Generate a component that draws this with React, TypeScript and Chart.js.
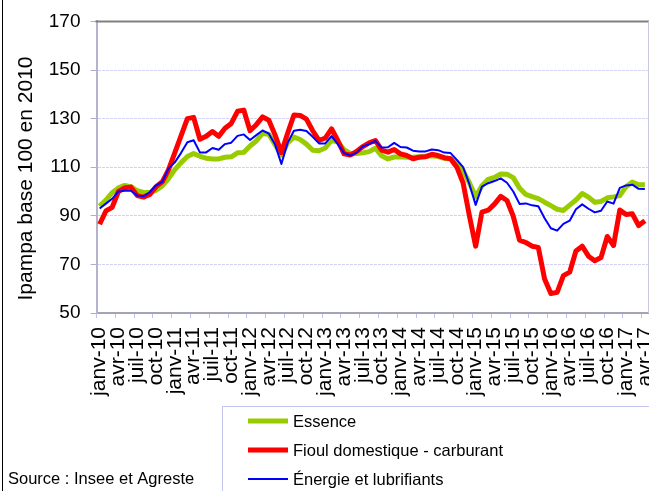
import React, { useEffect, useRef } from 'react';
import { Chart, registerables } from 'chart.js';

Chart.register(...registerables);

const categories = [
  'janv-10','févr-10','mars-10','avr-10','mai-10','juin-10','juil-10','août-10','sept-10','oct-10','nov-10','déc-10',
  'janv-11','févr-11','mars-11','avr-11','mai-11','juin-11','juil-11','août-11','sept-11','oct-11','nov-11','déc-11',
  'janv-12','févr-12','mars-12','avr-12','mai-12','juin-12','juil-12','août-12','sept-12','oct-12','nov-12','déc-12',
  'janv-13','févr-13','mars-13','avr-13','mai-13','juin-13','juil-13','août-13','sept-13','oct-13','nov-13','déc-13',
  'janv-14','févr-14','mars-14','avr-14','mai-14','juin-14','juil-14','août-14','sept-14','oct-14','nov-14','déc-14',
  'janv-15','févr-15','mars-15','avr-15','mai-15','juin-15','juil-15','août-15','sept-15','oct-15','nov-15','déc-15',
  'janv-16','févr-16','mars-16','avr-16','mai-16','juin-16','juil-16','août-16','sept-16','oct-16','nov-16','déc-16',
  'janv-17','févr-17','mars-17','avr-17',
];

const essence = [
  94, 96.5, 99.5, 101.5, 102.5, 102, 100.3, 99.6, 99.6, 100.5, 102.3, 105.3,
  109, 111.9, 114.4, 115.6, 114.5, 113.7, 113.4, 113.4, 114.1, 114.3, 115.9, 116.1,
  118.7, 120.8, 123.9, 123.6, 119.2, 115, 120, 122.4, 121.4, 119.5, 117, 116.8,
  117.9, 121, 120.5, 117.2, 115.6, 115.6, 115.9, 116.4, 117.8, 114.7, 113.4, 114.2,
  114.3, 114.1, 114.1, 114.3, 114.5, 114.7, 114.4, 113.6, 113.5, 111.5, 108.5, 103.6,
  97.8, 102.4, 105, 105.8, 107.2, 107.1, 105.7, 101.4, 98.8, 97.9, 97.1, 95.6,
  94.2, 92.7, 92.2, 94.4, 96.5, 99.2, 97.7, 95.6, 95.9, 97.4, 97.8, 98.3,
  102, 103.9, 102.8, 102.8,
];

const fioul = [
  86.5, 92, 93.5, 100, 101.5, 101.8, 98.3, 97.7, 98.8, 102, 104, 109,
  116, 123, 130, 130.5, 121.5, 122.7, 124.7, 122.7, 126, 128, 133, 133.5,
  125, 127.5, 130.7, 129.3, 123.2, 116, 124, 131.5, 131.3, 129.8, 125, 121,
  122, 125.8, 121, 115.5, 115, 116.5, 118.5, 120, 121, 117, 116.2, 117.3,
  115.5, 114.8, 113.5, 114.1, 114.3, 115.3, 114.8, 113.9, 113.5, 110, 103.5, 90,
  77.5, 91.5, 92.3, 94.8, 98, 96.3, 89.8, 80, 79, 77.5, 77, 64,
  58, 58.5, 65.4, 66.8, 75.5, 77.5, 73.4, 71.5, 72.8, 81.5, 77.8, 92.4,
  90.5, 90.8, 86, 88,
];

const energie = [
  93, 95, 97, 100, 100.3, 100.3, 98.3, 98, 99.7, 102.5, 104, 109.5,
  112, 115.9, 120.3, 121.1, 116.1, 116.1, 117.9, 117.2, 119.5, 120.1, 122.9, 123.5,
  121.2, 123.2, 125.1, 123.8, 119.3, 111.3, 120, 125, 125.4, 124.9, 122.5, 119.8,
  119.8, 122.8, 119.5, 115.8, 114.8, 116, 118.5, 119.5, 120.8, 118.1, 118.2, 120,
  118.3, 118.1, 116.8, 116.5, 116.5, 117.3, 117, 116, 115.8, 113, 110, 103,
  94.5, 102, 103.4, 104.3, 105.4, 103.6, 100, 94.9, 95.1, 94.3, 93.9, 89,
  84.9, 83.9, 86.7, 88, 92.7, 94.7, 92.9, 91.4, 92.1, 95.9, 95, 101.5,
  102.5, 102.8, 101.1, 101,
];

const seriesNames = ['Essence', 'Fioul domestique - carburant', 'Énergie et lubrifiants'];
const seriesColors = ['#99CC00', '#FF0000', '#0000FF'];
const seriesWidths = [5, 5, 2];
const yTicks = [50, 70, 90, 110, 130, 150, 170];
const yTitle = 'Ipampa base 100 en 2010';
const sourceText = 'Source : Insee et Agreste';

const FONT = "'Liberation Sans', Arial, Helvetica, sans-serif";

export default function App() {
  const ref = useRef<HTMLCanvasElement>(null);

  useEffect(() => {
    const canvas = ref.current;
    if (!canvas) return;

    const decor = {
      id: 'decor',
      afterDraw(chart: any) {
        const { ctx, chartArea: a } = chart;
        ctx.save();
        // top border of plot
        ctx.strokeStyle = '#808080';
        ctx.lineWidth = 2;
        ctx.beginPath();
        ctx.moveTo(a.left - 1, a.top);
        ctx.lineTo(649, a.top);
        ctx.stroke();
        // right border of plot
        ctx.strokeStyle = '#c8c8e0';
        ctx.lineWidth = 1;
        ctx.beginPath();
        ctx.moveTo(a.right + 0.5, a.top);
        ctx.lineTo(a.right + 0.5, a.bottom);
        ctx.stroke();
        // outer frame, left
        ctx.strokeStyle = '#000000';
        ctx.lineWidth = 1;
        ctx.beginPath();
        ctx.moveTo(2.5, 0);
        ctx.lineTo(2.5, 491);
        ctx.stroke();
        ctx.restore();

        // y axis title
        ctx.save();
        ctx.fillStyle = '#000';
        ctx.font = `21px ${FONT}`;
        ctx.textAlign = 'center';
        ctx.textBaseline = 'alphabetic';
        ctx.translate(31.5, 178.5);
        ctx.rotate(-Math.PI / 2);
        ctx.fillText(yTitle, 0, 0);
        ctx.restore();

        // legend box
        ctx.save();
        ctx.strokeStyle = '#c4c4f0';
        ctx.lineWidth = 1;
        ctx.strokeRect(222.5, 406.5, 600, 200);
        const rows = [421, 450, 479];
        ctx.font = `16.5px ${FONT}`;
        ctx.textAlign = 'left';
        ctx.textBaseline = 'middle';
        seriesNames.forEach((name, i) => {
          ctx.strokeStyle = seriesColors[i];
          ctx.lineWidth = seriesWidths[i];
          ctx.beginPath();
          ctx.moveTo(248, rows[i]);
          ctx.lineTo(288, rows[i]);
          ctx.stroke();
          ctx.fillStyle = '#000';
          ctx.fillText(name, 293, rows[i] + 1);
        });
        // source
        ctx.fillText(sourceText, 8, 479);
        ctx.restore();
      },
    };

    const chart = new Chart(canvas, {
      type: 'line',
      data: {
        labels: categories,
        datasets: [
          { label: seriesNames[0], data: essence, borderColor: seriesColors[0], borderWidth: seriesWidths[0], order: 2 },
          { label: seriesNames[1], data: fioul, borderColor: seriesColors[1], borderWidth: seriesWidths[1], order: 1 },
          { label: seriesNames[2], data: energie, borderColor: seriesColors[2], borderWidth: seriesWidths[2], order: 0 },
        ].map((d) => ({
          ...d,
          fill: false,
          tension: 0,
          pointRadius: 0,
          pointHoverRadius: 0,
          borderJoinStyle: 'round' as const,
          borderCapStyle: 'butt' as const,
          clip: 4,
        })),
      },
      options: {
        responsive: false,
        animation: false,
        devicePixelRatio: 1,
        layout: { padding: { top: 17, right: 1, left: 0, bottom: 0 } },
        plugins: { legend: { display: false }, tooltip: { enabled: false }, title: { display: false } },
        events: [],
        scales: {
          x: {
            type: 'category',
            offset: true,
            grid: {
              offset: true,
              drawOnChartArea: false,
              drawTicks: true,
              tickLength: 5,
              color: (c: any) => (c.index % 3 === 0 ? '#c0c0ec' : 'rgba(0,0,0,0)'),
              lineWidth: 1,
            },
            border: { display: true, color: '#a4a4b8', width: 2 },
            ticks: {
              autoSkip: false,
              minRotation: 90,
              maxRotation: 90,
              padding: 9,
              color: '#000',
              font: { family: FONT, size: 21 },
              callback: (_v: any, i: number) => (i % 3 === 0 ? categories[i] : ''),
            },
            afterFit: (s: any) => {
              s.height = 178;
              s.paddingLeft = 0;
              s.paddingRight = 0;
            },
          },
          y: {
            min: yTicks[0],
            max: yTicks[yTicks.length - 1],
            afterBuildTicks: (s: any) => {
              s.ticks = yTicks.map((v) => ({ value: v }));
            },
            grid: {
              drawOnChartArea: true,
              drawTicks: true,
              tickLength: 6,
              color: '#d2d2f4',
              tickColor: '#b0b0c8',
              lineWidth: 1,
              tickBorderDash: [],
            },
            border: { display: true, color: '#b4b4cc', width: 2, dash: [3, 1] },
            ticks: {
              padding: 10,
              color: '#000',
              font: { family: FONT, size: 19 },
            },
            afterFit: (s: any) => {
              s.width = 96.5;
            },
          },
        },
      },
      plugins: [decor],
    } as any);

    return () => chart.destroy();
  }, []);

  return (
    <div style={{ position: 'fixed', left: 0, top: 0, width: 649, height: 491, background: '#fff' }}>
      <canvas ref={ref} width={649} height={491} style={{ width: 649, height: 491, display: 'block' }} />
    </div>
  );
}
